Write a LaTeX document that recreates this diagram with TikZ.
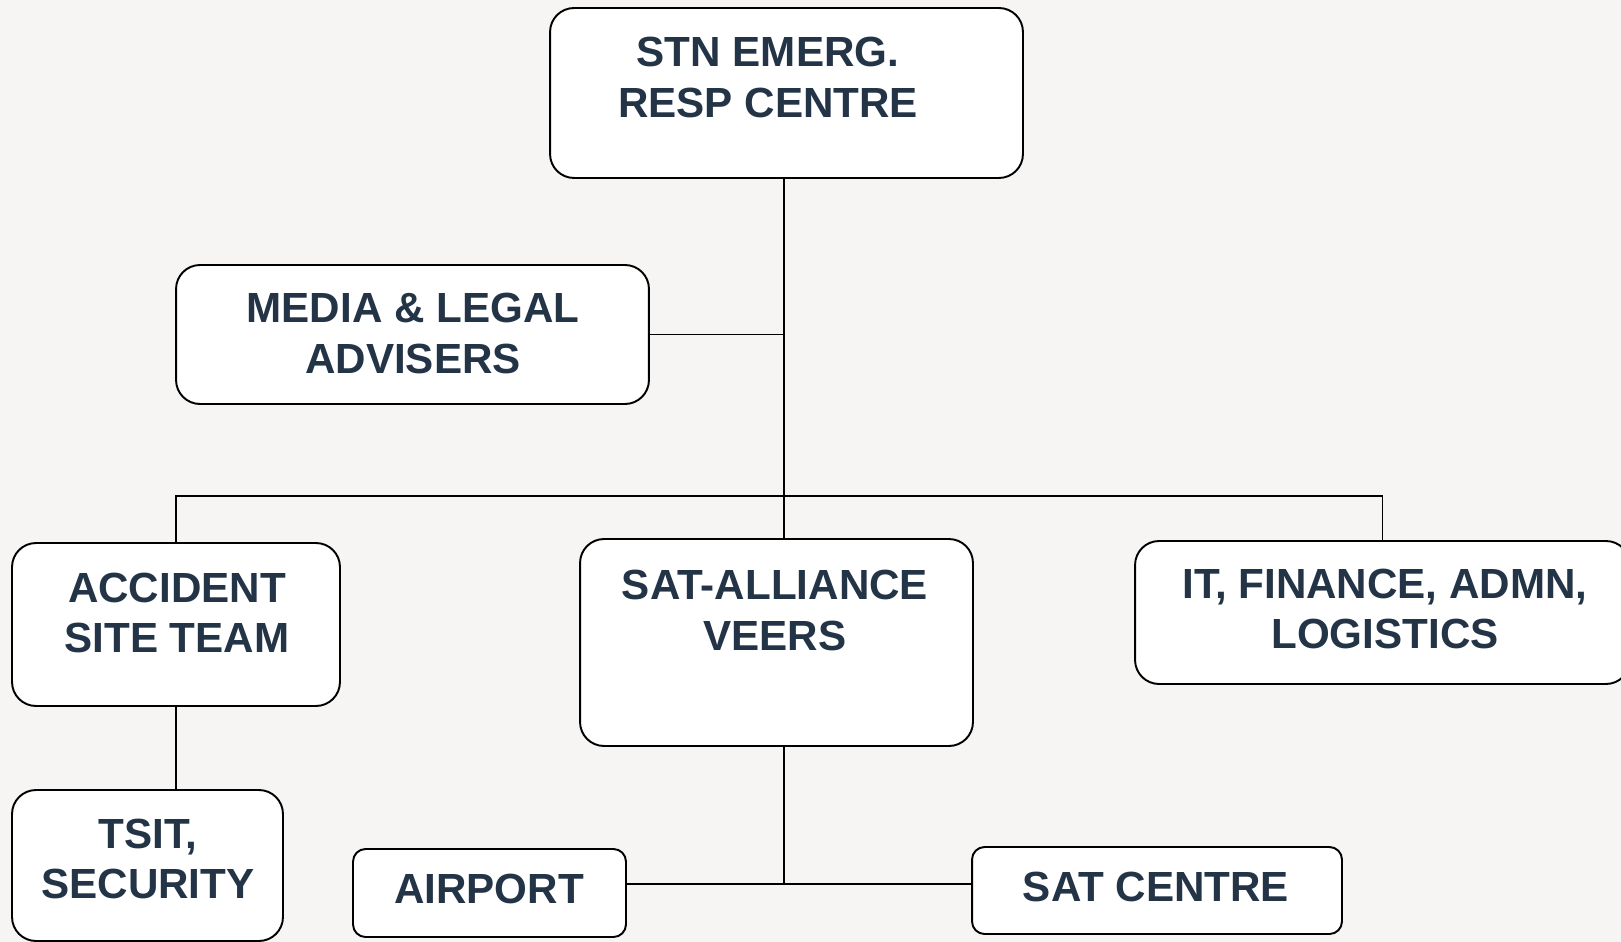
\documentclass[tikz,border=0pt]{standalone}
\usepackage{fontspec}
\setmainfont{Liberation Sans}
\definecolor{pagegray}{RGB}{246,245,243}
\definecolor{navytext}{RGB}{36,52,71}
\tikzset{
  unitbox/.style={draw=black, fill=white, line width=1.1pt, rounded corners=0.48cm, inner sep=0pt},
  smallbox/.style={unitbox, rounded corners=0.25cm},
  unittext/.style={text=navytext, font=\fontsize{24}{28.5}\selectfont\bfseries, align=center, inner sep=0pt},
  link/.style={draw=black, line width=0.9pt}
}

\begin{document}
\begin{tikzpicture}[x=0.02cm, y=-0.02cm]

\fill[pagegray] (0,0) rectangle (1621,942);
\useasboundingbox (0,0) rectangle (1621,942);

%TOP
\node[unitbox, minimum width=9.46cm, minimum height=3.4cm] (stn) at (786.5,93) {};
\node[unittext] (stntxt) at (768,77.5) {STN EMERG.\\RESP CENTRE};

\node[unitbox, minimum width=9.46cm, minimum height=2.78cm] (media) at (412.5,334.5) {};
\node[unittext] (mediatxt) at (413,333.5) {MEDIA \& LEGAL\\ADVISERS};

%%%%%%%%%%%%%%%%%%%%
%MIDDLE ROW
\node[unitbox, minimum width=6.56cm, minimum height=3.26cm] (acc) at (176,624.5) {};
\node[unittext] (acctxt) at (177,613) {ACCIDENT\\SITE TEAM};

\node[unitbox, minimum width=7.86cm, minimum height=4.14cm] (sat) at (776.5,642.5) {};
\node[unittext] (sattxt) at (775,610.5) {SAT-ALLIANCE\\VEERS};

\node[unitbox, minimum width=9.9cm, minimum height=2.86cm] (itf) at (1382.5,612.5) {};
\node[unittext] (itftxt) at (1385,609) {IT, FINANCE, ADMN,\\LOGISTICS};

%%%%%%%%%%%%%%%%%%%%
%BOTTOM ROW
\node[unitbox, minimum width=5.42cm, minimum height=3.02cm] (tsit) at (147.5,865.5) {};
\node[unittext] (tsittxt) at (148,859) {TSIT,\\SECURITY};

\node[smallbox, minimum width=5.46cm, minimum height=1.76cm] (airport) at (489.5,893) {};
\node[unittext] (airporttxt) at (489,889) {AIRPORT};

\node[smallbox, minimum width=7.40cm, minimum height=1.74cm] (satc) at (1157,890.5) {};
\node[unittext] (satctxt) at (1156,887) {SAT CENTRE};

%%%%%%%%%%%%%%%%%%%%
%links
\coordinate (bus) at (784,496);
\coordinate (join) at (784,884);

\draw[link] (bus |- stn.south) -- (bus |- sat.north);
\draw[link] (media.east) -- (media.east -| bus);
\draw[link] (acc.north) -- (acc.north |- bus) -- (itf.north |- bus) -- (itf.north);
\draw[link] (acc.south) -- (acc.south |- tsit.north);
\draw[link] (join |- sat.south) -- (join);
\draw[link] (airport.east |- join) -- (satc.west |- join);
\end{tikzpicture}
\end{document}
